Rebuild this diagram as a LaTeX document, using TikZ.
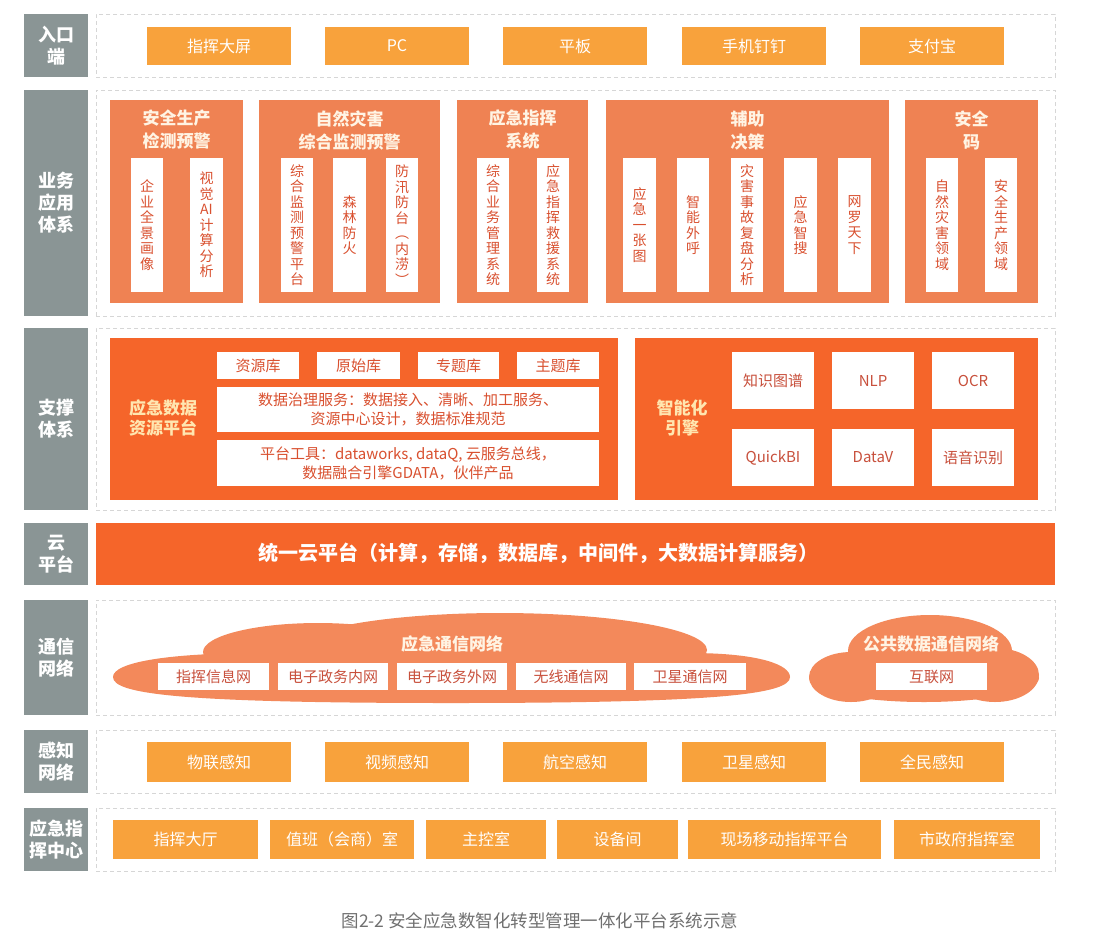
\documentclass[tikz,border=0pt]{standalone}
\usepackage{fontspec}
\setmainfont{Noto Sans CJK SC}
\definecolor{labgray}{HTML}{8A9595}
\definecolor{dashgray}{HTML}{D6D6D6}
\definecolor{lorange}{HTML}{F8A23C}
\definecolor{salmon}{HTML}{EF8253}
\definecolor{deeporange}{HTML}{F5652A}
\definecolor{cloudc}{HTML}{F3895B}
\definecolor{stripred}{HTML}{D9502F}
\definecolor{boxred}{HTML}{C8503C}
\definecolor{titlecol}{HTML}{FFF4E4}
\definecolor{titleyel}{HTML}{FFE6B0}
\definecolor{capgray}{HTML}{707070}
\newcommand\myfs[2]{\fontsize{#1}{#2}\selectfont}
\newcommand\bx[7]{\node[#1, minimum width={#5-#3}, minimum height={#6-#4}] (#2) at ({(#3+#5)/2},{(#4+#6)/2}) {#7};}
\tikzset{
  lab/.style={fill=labgray,text=white,font=\bfseries\myfs{18}{22},align=center,inner sep=0},
  dbox/.style={draw=dashgray,dash pattern=on 4pt off 3pt,line width=0.7pt,inner sep=0},
  obox/.style={fill=lorange,text=white,font=\myfs{16}{20},inner sep=0},
  bizbox/.style={fill=salmon,inner sep=0},
  strip/.style={fill=white,text=stripred,font=\myfs{14}{15.5},align=center,inner sep=0},
  bigbox/.style={fill=deeporange,inner sep=0},
  wbox/.style={fill=white,text=stripred,font=\myfs{15}{19},align=center,inner sep=0},
  ebox/.style={fill=white,text=boxred,font=\myfs{15}{19},align=center,inner sep=0},
  cbox/.style={fill=white,text=boxred,font=\myfs{15}{19},align=center,inner sep=0},
  bizttl/.style={text=titlecol,font=\bfseries\myfs{17}{23},align=center,inner sep=0},
  supttl/.style={text=titleyel,font=\bfseries\myfs{17}{20},align=center,inner sep=0},
}
\begin{document}
\begin{tikzpicture}[x=1pt,y=-1pt]
\useasboundingbox (0,0) rectangle (1097,946);
\fill[white] (0,0) rectangle (1097,946);

% ---------- Row labels ----------
\bx{lab}{l1}{24}{14}{88}{77}{入口\\端}
\bx{lab}{l2}{24}{90}{88}{316}{业务\\应用\\体系}
\bx{lab}{l3}{24}{328}{88}{510}{支撑\\体系}
\bx{lab}{l4}{24}{523}{88}{585}{云\\平台}
\bx{lab}{l5}{24}{600}{88}{715}{通信\\网络}
\bx{lab}{l6}{24}{730}{88}{793}{感知\\网络}
\bx{lab}{l7}{24}{808}{88}{871}{应急指\\挥中心}

% ---------- Dashed frames ----------
\bx{dbox}{d1}{96}{14}{1055}{77}{}
\bx{dbox}{d2}{96}{90}{1055}{316}{}
\bx{dbox}{d3}{96}{328}{1055}{510}{}
\bx{dbox}{d5}{96}{600}{1055}{715}{}
\bx{dbox}{d6}{96}{730}{1055}{793}{}
\bx{dbox}{d7}{96}{808}{1055}{871}{}

% ---------- Row 1 ----------
\bx{obox}{e1}{147}{27}{291}{65}{指挥大屏}
\bx{obox}{e2}{325}{27}{469}{65}{PC}
\bx{obox}{e3}{503}{27}{647}{65}{平板}
\bx{obox}{e4}{682}{27}{826}{65}{手机钉钉}
\bx{obox}{e5}{860}{27}{1004}{65}{支付宝}

% ---------- Row 2 ----------
\bx{bizbox}{bA}{110}{100}{243}{303}{}
\bx{bizbox}{bB}{259}{100}{440}{303}{}
\bx{bizbox}{bC}{457}{100}{588}{303}{}
\bx{bizbox}{bD}{606}{100}{889}{303}{}
\bx{bizbox}{bE}{905}{100}{1038}{303}{}
\node[bizttl] (tA) at (176.5,130) {安全生产\\检测预警};
\node[bizttl] (tB) at (349.5,130) {自然灾害\\综合监测预警};
\node[bizttl] (tC) at (522.5,130) {应急指挥\\系统};
\node[bizttl] (tD) at (747.5,130) {辅助\\决策};
\node[bizttl] (tE) at (971.5,130) {安全\\码};
\bx{strip}{sA1}{131}{158}{163}{292}{企\\业\\全\\景\\画\\像}
\bx{strip}{sA2}{190}{158}{223}{292}{视\\觉\\AI\\计\\算\\分\\析}
\bx{strip}{sB1}{281}{158}{313}{292}{综\\合\\监\\测\\预\\警\\平\\台}
\bx{strip}{sB2}{333}{158}{366}{292}{森\\林\\防\\火}
\bx{strip}{sB3}{386}{158}{418}{292}{防\\汛\\防\\台\\︵\\内\\涝\\︶}
\bx{strip}{sC1}{477}{158}{509}{292}{综\\合\\业\\务\\管\\理\\系\\统}
\bx{strip}{sC2}{537}{158}{569}{292}{应\\急\\指\\挥\\救\\援\\系\\统}
\bx{strip}{sD1}{623}{158}{656}{292}{应\\急\\一\\张\\图}
\bx{strip}{sD2}{677}{158}{709}{292}{智\\能\\外\\呼}
\bx{strip}{sD3}{731}{158}{763}{292}{灾\\害\\事\\故\\复\\盘\\分\\析}
\bx{strip}{sD4}{784}{158}{817}{292}{应\\急\\智\\搜}
\bx{strip}{sD5}{838}{158}{871}{292}{网\\罗\\天\\下}
\bx{strip}{sE1}{926}{158}{958}{292}{自\\然\\灾\\害\\领\\域}
\bx{strip}{sE2}{985}{158}{1017}{292}{安\\全\\生\\产\\领\\域}

% ---------- Row 3 ----------
\bx{bigbox}{pL}{110}{338}{618}{500}{}
\bx{bigbox}{pR}{635}{338}{1038}{500}{}
\node[supttl] (tL) at (163,418) {应急数据\\资源平台};
\node[supttl] (tR) at (682,418) {智能化\\引擎};
\bx{wbox}{k1}{217}{352}{299}{379}{资源库}
\bx{wbox}{k2}{317}{352}{400}{379}{原始库}
\bx{wbox}{k3}{418}{352}{499}{379}{专题库}
\bx{wbox}{k4}{517}{352}{599}{379}{主题库}
\bx{wbox}{gov}{217}{387}{599}{432}{数据治理服务：数据接入、清晰、加工服务、\\资源中心设计，数据标准规范}
\bx{wbox}{tool}{217}{440}{599}{486}{平台工具：dataworks, dataQ, 云服务总线，\\数据融合引擎GDATA，伙伴产品}
\bx{ebox}{n1}{732}{352}{814}{409}{知识图谱}
\bx{ebox}{n2}{832}{352}{914}{409}{NLP}
\bx{ebox}{n3}{932}{352}{1014}{409}{OCR}
\bx{ebox}{n4}{732}{429}{814}{486}{QuickBI}
\bx{ebox}{n5}{832}{429}{914}{486}{DataV}
\bx{ebox}{n6}{932}{429}{1014}{486}{语音识别}

% ---------- Row 4 ----------
\bx{bigbox}{cloudbar}{96}{523}{1055}{585}{}
\node[anchor=west,text=white,font=\bfseries\myfs{20}{22},inner sep=0] (cbt) at (258,553) {统一云平台（计算，存储，数据库，中间件，大数据计算服务）};

% ---------- Row 5 ----------
\fill[cloudc] (113,677) .. controls (113,662) and (170,653) .. (260,653)
  -- (690,653) .. controls (760,653) and (790,665) .. (790,677)
  .. controls (790,694) and (720,703) .. (451,703)
  .. controls (180,703) and (113,694) .. (113,677) -- cycle;
\fill[cloudc] (318,652) ellipse [x radius=115, y radius=29];
\fill[cloudc] (500,650) ellipse [x radius=207, y radius=37];
\fill[cloudc] (924,678) ellipse [x radius=115, y radius=24];
\fill[cloudc] (930,651) ellipse [x radius=82, y radius=36];
\fill[cloudc] (851,677) ellipse [x radius=42, y radius=25];
\fill[cloudc] (995,675) ellipse [x radius=44, y radius=27];
\node[supttl,text=titlecol] (ct1) at (452,644) {应急通信网络};
\node[supttl,text=titlecol] (ct2) at (931,644) {公共数据通信网络};
\bx{cbox}{w1}{158}{663}{269}{690}{指挥信息网}
\bx{cbox}{w2}{278}{663}{388}{690}{电子政务内网}
\bx{cbox}{w3}{397}{663}{507}{690}{电子政务外网}
\bx{cbox}{w4}{516}{663}{626}{690}{无线通信网}
\bx{cbox}{w5}{634}{663}{746}{690}{卫星通信网}
\bx{cbox}{w6}{876}{663}{987}{690}{互联网}

% ---------- Row 6 ----------
\bx{obox}{g1}{147}{742}{291}{782}{物联感知}
\bx{obox}{g2}{325}{742}{469}{782}{视频感知}
\bx{obox}{g3}{503}{742}{647}{782}{航空感知}
\bx{obox}{g4}{682}{742}{826}{782}{卫星感知}
\bx{obox}{g5}{860}{742}{1004}{782}{全民感知}

% ---------- Row 7 ----------
\bx{obox}{h1}{113}{820}{258}{859}{指挥大厅}
\bx{obox}{h2}{270}{820}{414}{859}{值班（会商）室}
\bx{obox}{h3}{426}{820}{546}{859}{主控室}
\bx{obox}{h4}{557}{820}{678}{859}{设备间}
\bx{obox}{h5}{688}{820}{881}{859}{现场移动指挥平台}
\bx{obox}{h6}{894}{820}{1040}{859}{市政府指挥室}

% ---------- Caption ----------
\node[text=capgray,font=\myfs{17.5}{20},inner sep=0] (cap) at (540,921) {图2-2 安全应急数智化转型管理一体化平台系统示意};
\end{tikzpicture}
\end{document}
